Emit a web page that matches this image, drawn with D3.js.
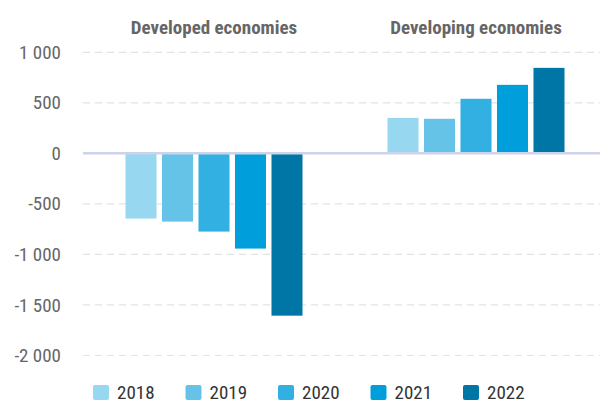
<!DOCTYPE html>
<html><head><meta charset="utf-8">
<script src="https://cdn.jsdelivr.net/npm/d3@7"></script>
<style>
body{margin:0;background:#fff;}
text{font-family:"Roboto Condensed",Roboto,sans-serif;}
</style></head>
<body><svg id="c" width="600" height="403"></svg>
<script>
const groups = ["Developed economies","Developing economies"];
const years = ["2018","2019","2020","2021","2022"];
const developed = [-645,-675,-774,-942,-1606];
const developing = [351,342,540,678,846];
const tickValues = [1000,500,0,-500,-1000,-1500,-2000];
const tickLabels = ["1 000","500","0","-500","-1 000","-1 500","-2 000"];
const colors = ["#98d7f0","#66c3e8","#33b0e2","#009edb","#0076a6"];

const series = [developed, developing];
const svg = d3.select("#c");
const y = d3.scaleLinear().domain([-2000,1000]).range([355.5,52.3]);
const x0 = d3.scaleBand().domain(groups).range([83,607]);
const x1 = d3.scaleBand().domain(years).range([-88.5,88.5]).paddingInner(0.15);
const color = d3.scaleOrdinal().domain(years).range(colors);

// grid
svg.append("g").selectAll("line").data(tickValues.filter(v=>v!==0)).join("line")
  .attr("x1",83).attr("x2",600).attr("y1",d=>y(d)).attr("y2",d=>y(d))
  .attr("stroke","#e3e3e3").attr("stroke-width",1.2).attr("stroke-dasharray","7,5");

// y axis labels
const yAxis = d3.axisLeft(y).tickValues(tickValues).tickFormat((d,i)=>tickLabels[i]).tickSize(0).tickPadding(0);
const ga = svg.append("g").attr("transform","translate(61,0)").call(yAxis);
ga.select(".domain").remove();
ga.selectAll("text").attr("font-size",19).attr("fill","#666").attr("font-family","Roboto Condensed,Roboto,sans-serif");

// bars
groups.forEach((g,gi)=>{
  const cx = x0(g)+x0.bandwidth()/2;
  svg.append("g").selectAll("rect").data(series[gi].map((v,i)=>({v,yr:years[i]}))).join("rect")
    .attr("x",d=>cx+x1(d.yr)).attr("width",x1.bandwidth())
    .attr("y",d=>y(Math.max(0,d.v))).attr("height",d=>Math.abs(y(d.v)-y(0)))
    .attr("fill",d=>color(d.yr));
  svg.append("text").attr("x",cx).attr("y",33.5).attr("text-anchor","middle")
    .attr("font-size",19).attr("font-weight","bold").attr("fill","#666").text(g);
});

// zero line
svg.append("line").attr("x1",83).attr("x2",600).attr("y1",y(0)).attr("y2",y(0))
  .attr("stroke","#cdd4ea").attr("stroke-width",2.5);

// legend
const lg = svg.append("g").selectAll("g").data(years).join("g")
  .attr("transform",(d,i)=>`translate(${93+i*92.5},385)`);
lg.append("rect").attr("width",16).attr("height",15).attr("rx",2).attr("fill",d=>color(d));
lg.append("text").attr("x",24).attr("y",14).attr("font-size",19).attr("fill","#333").text(d=>d);
</script></body></html>
